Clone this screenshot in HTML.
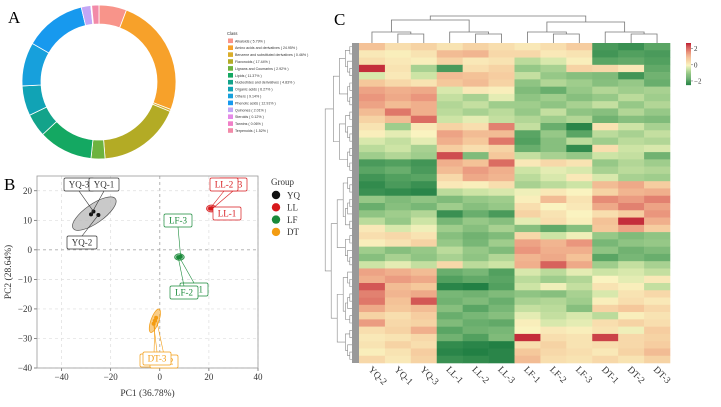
<!DOCTYPE html>
<html><head><meta charset="utf-8">
<style>
html,body{margin:0;padding:0;background:#fff;}
svg{display:block;font-family:"Liberation Serif",serif;}
</style></head>
<body>
<svg id="fig" width="721" height="407" viewBox="0 0 721 407" xmlns="http://www.w3.org/2000/svg">
<text x="8" y="23" font-size="17">A</text>
<text x="4" y="190" font-size="17">B</text>
<text x="334" y="25" font-size="17">C</text>
<g id="donut"></g>
<g id="dlegend"></g>
<g id="pca"></g>
<g id="heat"></g>
</svg>
<script>
const NS="http://www.w3.org/2000/svg";
function mk(parent,tag,attrs,text){const e=document.createElementNS(NS,tag);for(const k in attrs)e.setAttribute(k,attrs[k]);if(text!==undefined)e.textContent=text;parent.appendChild(e);return e;}

/* ---------- Panel A: donut ---------- */
const classNames=["Alkaloids","Amino acids and derivatives","Benzene and substituted derivatives","Flavonoids","Lignans and Coumarins","Lipids","Nucleotides and derivatives","Organic acids","Others","Phenolic acids","Quinones","Steroids","Tannins","Terpenoids"];
const classPct=[5.79,24.95,0.46,17.44,2.92,11.37,4.83,6.27,9.14,12.91,2.01,0.12,0.06,1.52];
const classColors=["#f8948a","#f7a12a","#d9ad2a","#b3ab25","#6db33f","#14a862","#13a38a","#11a3b5","#17a0dc","#1799ee","#c3a6f5","#e58ae8","#f07fc8","#f28aa8"];
(function(){
 const g=document.getElementById('donut');
 const cx=99,cy=82,R=77,r=58;
 const total=classPct.reduce((a,b)=>a+b,0);
 let a0=0;
 classPct.forEach((v,i)=>{
  const a1=a0+v/total*2*Math.PI;
  const p=(rad,a)=>[cx+rad*Math.sin(a),cy-rad*Math.cos(a)];
  const large=(a1-a0)>Math.PI?1:0;
  const [x1,y1]=p(R,a0),[x2,y2]=p(R,a1),[x3,y3]=p(r,a1),[x4,y4]=p(r,a0);
  const path=mk(g,'path',{d:`M${x1},${y1}A${R},${R} 0 ${large} 1 ${x2},${y2}L${x3},${y3}A${r},${r} 0 ${large} 0 ${x4},${y4}Z`,fill:classColors[i],stroke:'#fff','stroke-width':0.8});
  
  
  a0=a1;
 });
 const lg=document.getElementById('dlegend');
 mk(lg,'text',{x:227,y:35,'font-size':4.2,fill:'#333','font-family':'Liberation Sans'},'Class');
 classNames.forEach((n,i)=>{
  const y=38.5+i*6.9;
  const rc=mk(lg,'rect',{x:228,y:y,width:5,height:4.6,fill:classColors[i]});
  
  
  const t=mk(lg,'text',{x:235,y:y+3.8,'font-size':3.6,fill:'#333','font-family':'Liberation Sans'},`${n} ( ${classPct[i].toFixed(2)}% )`);
  
  
 });
})();

/* ---------- Panel B: PCA ---------- */
const pcaGroups=["YQ","LL","LF","DT"];
const pcaColors=["#111111","#d7191c","#1a8a3a","#f39c12"];
const pcaX=[[-27,-28,-25],[21,20.5,21.5],[8,7.5,8.5],[-2,-2.5,-1.5]];
const pcaY=[[13,12,11.8],[14,14,14],[-2.5,-2.5,-2.3],[-24,-25,-23]];
const xTicks=[-40,-20,0,20,40];
const yTicks=[20,10,0,-10,-20,-30,-40];
(function(){
 const g=document.getElementById('pca');
 const L=37,Rr=258,T=176,B=368;
 const xs=v=>L+(v+50)/90*(Rr-L);
 const ys=v=>T+(25-v)/65*(B-T);
 xTicks.forEach(t=>{
  mk(g,'line',{x1:xs(t),x2:xs(t),y1:T,y2:B,stroke:t===0?'#aaa':'#ddd','stroke-dasharray':'3,3','stroke-width':t===0?0.9:0.7});
  mk(g,'line',{x1:xs(t),x2:xs(t),y1:B,y2:B+3,stroke:'#555','stroke-width':0.7});
  const tx=mk(g,'text',{x:xs(t),y:B+12,'font-size':9,'text-anchor':'middle',fill:'#333'},t===0?'0':(t<0?'\u2212'+(-t):t));
  
 });
 yTicks.forEach(t=>{
  mk(g,'line',{x1:L,x2:Rr,y1:ys(t),y2:ys(t),stroke:t===0?'#aaa':'#ddd','stroke-dasharray':'3,3','stroke-width':t===0?0.9:0.7});
  mk(g,'line',{x1:L-3,x2:L,y1:ys(t),y2:ys(t),stroke:'#555','stroke-width':0.7});
  const tx=mk(g,'text',{x:L-5,y:ys(t)+3,'font-size':9,'text-anchor':'end',fill:'#333'},t===0?'0':(t<0?'\u2212'+(-t):t));
  
 });
 mk(g,'rect',{x:L,y:T,width:Rr-L,height:B-T,fill:'none',stroke:'#999','stroke-width':0.8});
 const xt=mk(g,'text',{x:(L+Rr)/2,y:396,'font-size':9.5,'text-anchor':'middle',fill:'#333'},'PC1 (36.78%)');
 
 const yt=mk(g,'text',{x:0,y:0,'font-size':9.5,'text-anchor':'middle',fill:'#333',transform:`translate(11,${(T+B)/2}) rotate(-90)`},'PC2 (28.64%)');
 
 const ell=[[10.5,3.2,-35],[2,1.2,0],[2,1.1,0],[1.6,4.2,20]];
 pcaGroups.forEach((grp,i)=>{
  const mx=pcaX[i].reduce((a,b)=>a+b)/3,my=pcaY[i].reduce((a,b)=>a+b)/3;
  const rx=ell[i][0]*(Rr-L)/90, ry=ell[i][1]*(B-T)/65;
  const e=mk(g,'ellipse',{cx:xs(mx),cy:ys(my),rx:rx,ry:ry,transform:`rotate(${ell[i][2]} ${xs(mx)} ${ys(my)})`,fill:i===0?'#bbb':pcaColors[i],'fill-opacity':i===0?0.8:0.5,stroke:i===0?'#555':pcaColors[i],'stroke-width':0.7});
  
  pcaX[i].forEach((x,j)=>{
   const c=mk(g,'circle',{cx:xs(x),cy:ys(pcaY[i][j]),r:2,fill:pcaColors[i]});
   
  });
 });
 const labs=[["YQ-3",0,64,178,0],["YQ-1",0,89,178,1],["YQ-2",0,67,236,2],["LL-1",1,213,207,0],["LL-3",1,219,178,2],["LL-2",1,210,178,1],
 ["LF-3",2,164,214,2],["LF-1",2,180,283,0],["LF-2",2,170,286,1],["DT-1",2.9,140,354,0],["DT-2",2.9,150,355,2],["DT-3",3,143,352,1]];
 labs.forEach(l=>{
  const gi=Math.round(l[1]);const col=gi===0?'#333':pcaColors[gi];
  const w=gi===0?30:28,h=13;
  mk(g,'line',{x1:l[2]+w/2,y1:l[3]+(l[3]>ys(pcaY[gi][l[4]])?0:h),x2:xs(pcaX[gi][l[4]]),y2:ys(pcaY[gi][l[4]]),stroke:col,'stroke-width':0.6});
  const bx=mk(g,'rect',{x:l[2],y:l[3],width:w,height:h,rx:1.5,fill:'#fff',stroke:col,'stroke-width':0.7});
  
  const t=mk(g,'text',{x:l[2]+w/2,y:l[3]+9.5,'font-size':9,'text-anchor':'middle',fill:col},l[0]);
  
 });
 const gl=mk(g,'text',{x:271,y:185,'font-size':9,fill:'#333'},'Group');
 
 pcaGroups.forEach((grp,i)=>{
  const y=195+i*12.3;
  const c=mk(g,'circle',{cx:276,cy:y,r:4.2,fill:pcaColors[i]});
  
  const t=mk(g,'text',{x:287,y:y+3.3,'font-size':9,fill:'#333'},grp);
  
 });
})();

/* ---------- Panel C: heatmap ---------- */
const heatCols=["YQ-2","YQ-1","YQ-3","LL-1","LL-2","LL-3","LF-1","LF-2","LF-3","DT-1","DT-2","DT-3"];
const heatRows=[
[0.9,0.4,0.6, 0.3,0.6,0.4, 0.2,0.4,0.7, -2.0,-2.2,-1.8],
[0.2,0.1,0.3, 1.0,1.1,0.5, 0.5,0.2,0.3, -2.1,-1.9,-2.0],
[0.4,0.2,0.1, 0.6,0.2,0.3, -0.6,-0.3,0.1, -1.8,-1.7,-1.9],
[2.6,0.3,-0.8, -2.0,0.4,0.6, -1.0,-0.8,0.6, 0.5,0.2,-1.7],
[-0.3,0.2,-0.4, 1.0,0.9,0.7, -0.5,-1.0,-1.2, -1.3,-2.1,-1.5],
[0.8,0.5,0.3, 0.8,1.0,0.6, -1.1,-0.7,-0.9, -1.2,-1.0,-1.6],
[1.4,1.2,1.3, -0.3,0.2,0.1, -1.3,-1.6,-1.0, -0.7,-0.9,-0.8],
[1.6,1.3,1.6, -0.5,-0.8,-0.2, -1.1,-0.9,-1.2, -1.0,-0.6,-0.9],
[1.4,1.0,1.2, -0.7,-0.5,-0.9, -0.9,-1.1,-0.8, -0.5,-1.0,-0.7],
[1.0,1.9,1.2, -0.6,-0.8,-0.6, -1.0,-0.5,-1.1, -1.2,-0.7,-1.0],
[0.6,1.0,2.0, -0.4,-0.2,-0.5, -0.7,-0.9,-0.7, -1.5,-1.2,-1.3],
[0.3,-0.9,0.2, 0.6,0.4,1.8, -0.5,-1.6,-2.4, 0.3,-0.4,-0.8],
[0.1,-0.2,0.0, 1.4,1.0,1.0, -1.8,-1.0,-1.8, -0.6,-0.8,-0.5],
[-0.3,-0.5,-0.2, 1.2,0.8,1.9, -1.9,-1.2,-0.6, -0.9,-0.6,-0.7],
[-0.6,-0.4,-0.8, 0.7,0.4,0.6, -1.6,-1.2,-2.3, 0.4,-0.4,-0.3],
[-0.9,-0.7,-0.9, 2.3,-1.3,0.8, -0.5,-0.8,-1.0, -0.4,-0.5,-1.5],
[-2.0,-1.9,-2.1, 1.2,0.9,2.0, 0.2,0.5,0.3, -1.0,-0.7,-0.9],
[-1.8,-1.6,-2.0, 1.0,1.5,1.2, -0.4,-0.2,-0.3, -0.8,-0.6,-0.7],
[-2.1,-1.9,-1.8, 0.5,1.3,1.1, -0.6,-0.3,0.2, -0.3,-0.8,-0.9],
[-2.3,-2.0,-2.2, 0.2,0.1,0.4, -0.8,-0.6,-0.4, 1.0,1.3,0.7],
[-2.2,-2.3,-2.4, -0.6,-0.4,-0.3, -0.1,0.2,0.0, 0.6,1.1,1.2],
[-1.0,-1.3,-1.1, -1.3,-1.0,-0.9, 0.1,1.0,0.3, 1.7,1.5,1.8],
[-1.6,-1.2,-1.4, -0.9,-1.2,-1.0, 0.4,0.0,0.2, 1.3,1.8,1.4],
[-1.1,-0.9,-0.7, -2.2,-1.6,-2.0, 0.6,0.3,0.0, 0.4,0.7,1.6],
[-0.6,-1.0,-0.4, -1.4,-1.0,-1.2, -0.2,0.4,0.1, 0.9,2.6,1.2],
[0.2,-0.3,-0.1, -0.9,-1.2,-0.8, -1.2,-1.7,-1.2, 0.8,1.4,0.7],
[0.4,0.5,0.3, -1.2,-1.5,-1.3, 0.5,-0.4,-0.1, -1.0,-1.3,-1.1],
[0.1,0.3,0.6, -1.0,-1.4,-0.9, 1.4,1.1,1.6, -1.4,-1.1,-1.0],
[-0.9,-1.2,-1.0, -0.6,-1.0,-1.3, 1.6,1.2,1.2, -1.1,-1.5,-1.3],
[-1.2,-0.8,-1.1, -0.8,-1.1,-0.7, 1.1,1.3,0.9, -1.8,-1.4,-1.6],
[-0.4,-0.2,-0.5, 0.5,-0.6,-0.4, 1.2,2.1,1.3, -0.9,-0.5,-0.8],
[1.4,1.2,1.0, -1.6,-1.4,-1.9, -0.3,-0.6,-0.2, -0.4,-0.3,-0.5],
[1.2,1.5,1.3, -1.9,-1.7,-1.8, -0.6,-0.9,-0.7, 0.0,-0.2,0.2],
[2.2,1.0,0.8, -2.4,-2.5,-1.9, -0.4,-0.1,-0.5, 0.3,0.1,-0.5],
[1.8,1.1,1.3, -1.4,-1.5,-1.3, -1.1,-1.2,-0.8, -0.3,0.3,0.5],
[1.9,0.9,2.2, -1.5,-1.3,-1.6, -0.8,-0.7,-0.9, 0.1,0.4,0.2],
[1.3,0.8,1.0, -1.2,-1.8,-1.4, -0.5,-0.6,-1.2, 0.6,0.8,0.5],
[0.6,0.4,0.7, -1.6,-1.4,-1.2, -0.2,-0.5,-0.3, -0.6,0.1,0.3],
[1.5,0.5,0.6, -1.3,-1.6,-1.7, 0.1,-0.3,-0.2, 0.4,0.6,0.4],
[0.4,0.6,1.2, -1.8,-1.5,-1.4, 0.0,0.2,0.1, 0.3,-0.1,0.7],
[0.2,0.3,0.5, -1.5,-1.9,-1.3, 2.6,0.4,0.3, 2.4,0.5,0.6],
[0.3,0.6,0.4, -2.3,-2.4,-2.5, 0.4,0.6,0.3, 0.4,0.5,0.7],
[0.1,0.3,0.7, -2.4,-2.5,-2.4, 0.8,0.5,0.4, 0.2,0.6,1.0],
[0.5,0.2,0.6, -2.2,-2.3,-2.4, 1.0,0.4,0.3, 0.5,0.3,0.6]
];
const legendTicks=[2,0,-2];
function heatColor(v){
 const stops=[[-2.5,[34,128,68]],[-1.8,[90,165,100]],[-1.0,[150,200,135]],[-0.4,[205,228,165]],[0,[250,243,192]],[0.8,[245,200,155]],[1.6,[234,150,125]],[2.7,[192,35,52]]];
 v=Math.max(-2.5,Math.min(2.7,v));
 for(let i=0;i<stops.length-1;i++){const a=stops[i],b=stops[i+1];if(v<=b[0]){const t=(v-a[0])/(b[0]-a[0]);return `rgb(${a[1].map((c,k)=>Math.round(c+(b[1][k]-c)*t)).join(',')})`;}}
 return 'rgb(192,35,52)';
}
(function(){
 const g=document.getElementById('heat');
 const L=359,Rr=670,T=43,B=363;
 const cw=(Rr-L)/heatCols.length, rh=(B-T)/heatRows.length;
 heatRows.forEach((row,i)=>{row.forEach((v,j)=>{
  const c=mk(g,'rect',{x:L+j*cw,y:T+i*rh,width:cw+0.3,height:rh+0.3,fill:heatColor(v)});
  
  
 });});
 heatCols.forEach((n,j)=>{
  const x=L+(j+0.5)*cw-4;
  const t=mk(g,'text',{x:0,y:0,'font-size':9.5,fill:'#333',transform:`translate(${x},370) rotate(45)`},n);
  
  
 });
 const cx=j=>L+(j+0.5)*cw;
 const dg=mk(g,'g',{stroke:'#777','stroke-width':0.8,fill:'none'});
 
 function u(x1,x2,yTop,y1,y2){mk(dg,'path',{d:`M${x1},${y1}V${yTop}H${x2}V${y2}`});}
 [0,3,6,9].forEach(s=>{
  const inner=(cx(s+1)+cx(s+2))/2;
  u(cx(s+1),cx(s+2),34,T,T);
  u(cx(s),inner,32,T,34);
 });
 const m=s=>(cx(s)+(cx(s+1)+cx(s+2))/2)/2;
 u(m(0),m(3),20,32,32);
 u(m(6),m(9),22,32,32);
 u((m(0)+m(3))/2,(m(6)+m(9))/2,16,20,22);
 const rg=mk(g,'g',{stroke:'#888','stroke-width':0.6,fill:'none'});
 
 mk(g,'rect',{x:352,y:T,width:7,height:B-T,fill:'#999'});
 function tree(a,b,depth){
  if(b-a<=rh*1.01){return {y:(a+b)/2,x:352};}
  const mid=a+Math.round((b-a)/rh*(0.4+0.2*((depth%3)/2)))*rh;
  const l=tree(a,mid>a?mid:a+rh,depth+1),r=tree(mid>a?mid:a+rh,b,depth+1);
  const x=Math.min(l.x,r.x)-(depth<3?6:2.2);
  mk(rg,'path',{d:`M${l.x},${l.y}H${x}V${r.y}H${r.x}`});
  return {y:(l.y+r.y)/2,x:x};
 }
 tree(T,B,0);
 const lg=mk(g,'g',{});
 
 for(let k=0;k<40;k++){const v=2.7-k*5.2/40;mk(lg,'rect',{x:686,y:43+k*1.05,width:5,height:1.2,fill:heatColor(v)});}
 legendTicks.forEach(t=>{
  const y=43+(2.7-t)/5.2*42;
  mk(lg,'line',{x1:691,x2:693,y1:y,y2:y,stroke:'#555','stroke-width':0.5});
  const tx=mk(lg,'text',{x:694,y:y+2.5,'font-size':7,fill:'#333'},t<0?'\u2212'+(-t):t);
  
 });
})();
</script>
</body></html>
